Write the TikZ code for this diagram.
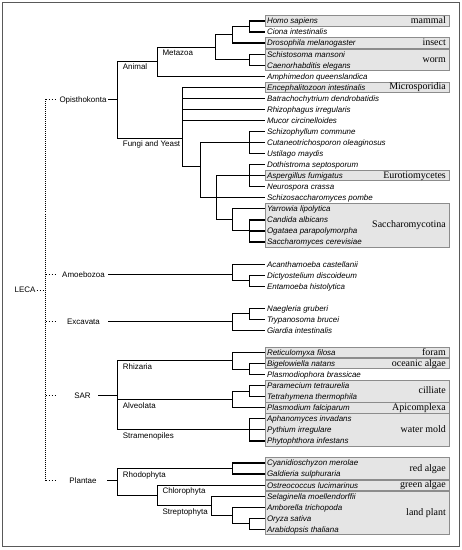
\documentclass[tikz,border=0pt]{standalone}
\usepackage{fontspec}
\setmainfont{Liberation Serif}
\setsansfont{Liberation Sans}
\begin{document}
\begin{tikzpicture}[x=1bp,y=-1bp,
  edge/.style={line width=1.2bp},
  hdot/.style={line width=1bp, dash pattern=on 1.5bp off 1.5bp},
  vdot/.style={line width=1.1bp, dash pattern=on 1bp off 1bp},
  leaf/.style={anchor=west, inner xsep=2.5bp, inner ysep=0pt, outer sep=0pt, text height=6bp, text depth=0.2bp, font=\sffamily\itshape\fontsize{8}{9.6}\selectfont},
  clade/.style={anchor=base west, inner sep=0pt, font=\sffamily\fontsize{8}{9.6}\selectfont},
  group/.style={anchor=base, inner sep=0pt, font=\sffamily\fontsize{8}{9.6}\selectfont},
  taxbox/.style={fill=black!10, draw=black!45, line width=0.8bp},
  taxlab/.style={anchor=east, inner sep=0pt, text height=5bp, text depth=0pt, font=\fontsize{10}{12}\selectfont},
]
\useasboundingbox (0,0) rectangle (462,550);
\draw[line width=1.5bp, draw=black!65] (2.5,2.5) rectangle (459.5,546.5);

% shaded boxes
\foreach \a/\b/\t in {0/0/mammal, 2/2/insect, 3/4/worm, 6/6/Microsporidia, 14/14/Eurotiomycetes, 17/20/Saccharomycotina, 30/30/foram, 31/31/oceanic algae, 33/34/cilliate, 35/35/Apicomplexa, 36/38/water mold, 40/41/red algae, 42/42/green algae, 43/46/land plant}{
  \draw[taxbox] (265.5,{21+11.05*\a-5.2}) rectangle (449.5,{21+11.05*\b+5.2});
  \node[taxlab] (box\a) at (446,{21+11.05*(\a+\b)/2}) {\t};
}

% leaves
\foreach \r/\t in {0/Homo sapiens, 1/Ciona intestinalis, 2/Drosophila melanogaster, 3/Schistosoma mansoni, 4/Caenorhabditis elegans, 5/Amphimedon queenslandica, 6/Encephalitozoon intestinalis, 7/Batrachochytrium dendrobatidis, 8/Rhizophagus irregularis, 9/Mucor circinelloides, 10/Schizophyllum commune, 11/Cutaneotrichosporon oleaginosus, 12/Ustilago maydis, 13/Dothistroma septosporum, 14/Aspergillus fumigatus, 15/Neurospora crassa, 16/Schizosaccharomyces pombe, 17/Yarrowia lipolytica, 18/Candida albicans, 19/Ogataea parapolymorpha, 20/Saccharomyces cerevisiae, 22/Acanthamoeba castellanii, 23/Dictyostelium discoideum, 24/Entamoeba histolytica, 26/Naegleria gruberi, 27/Trypanosoma brucei, 28/Giardia intestinalis, 30/Reticulomyxa filosa, 31/Bigelowiella natans, 32/Plasmodiophora brassicae, 33/Paramecium tetraurelia, 34/Tetrahymena thermophila, 35/Plasmodium falciparum, 36/Aphanomyces invadans, 37/Pythium irregulare, 38/Phytophthora infestans, 40/Cyanidioschyzon merolae, 41/Galdieria sulphuraria, 42/Ostreococcus lucimarinus, 43/Selaginella moellendorffii, 44/Amborella trichopoda, 45/Oryza sativa, 46/Arabidopsis thaliana}{
  \node[leaf] (l\r) at (264.5,{21+11.05*\r}) {\t};
}

% internal nodes
\coordinate (hc) at (249.5,26.5);
\coordinate (hcd) at (232.5,34.5);
\coordinate (worm) at (249.5,59.5);
\coordinate (bil) at (215.5,47.5);
\coordinate (meta) at (157.5,61.5);
\coordinate (basi) at (249.5,142.5);
\coordinate (pez) at (249.5,175.5);
\coordinate (sacb) at (249.5,230.5);
\coordinate (sac) at (232.5,219.5);
\coordinate (asco) at (216.5,197.8);
\coordinate (dik) at (200.5,166.5);
\coordinate (fun) at (182.5,138.5);
\coordinate (opi) at (117.5,99.5);
\coordinate (de) at (249.5,280.5);
\coordinate (amo) at (232.5,274.5);
\coordinate (nt) at (249.5,313.5);
\coordinate (exc) at (232.5,321.5);
\coordinate (bp) at (249.5,369.5);
\coordinate (rhi) at (232.5,360.5);
\coordinate (pt) at (249.5,391.5);
\coordinate (alv) at (232.5,399.5);
\coordinate (stra) at (249.5,429.85);
\coordinate (sar) at (117.5,395.5);
\coordinate (rho) at (232.5,468.5);
\coordinate (ao) at (249.5,523.5);
\coordinate (ang) at (232.5,515.5);
\coordinate (stp) at (211.5,505.5);
\coordinate (vir) at (157.5,495.5);
\coordinate (pla) at (117.5,480.5);

% edges (each vertical drawn once)
\draw[edge] (l0.west) -| (hc) |- (l1.west);
\draw[edge] (hc) -| (hcd) |- (l2.west);
\draw[edge] (l3.west) -| (worm) |- (l4.west);
\draw[edge] (hcd) -| (bil) |- (worm);
\draw[edge] (bil) -| (meta) |- (l5.west);
\draw[edge] (l10.west) -| (basi) |- (l12.west);
\draw[edge] (basi |- l11.west) -- (l11.west);
\draw[edge] (l13.west) -| (pez) |- (l15.west);
\draw[edge] (pez |- l14.west) -- (l14.west);
\draw[edge] (l18.west) -| (sacb) |- (l20.west);
\draw[edge] (sacb |- l19.west) -- (l19.west);
\draw[edge] (l17.west) -| (sac) |- (sacb);
\draw[edge] (pez) -| (asco) |- (sac);
\draw[edge] (asco |- l16.west) -- (l16.west);
\draw[edge] (basi) -| (dik) |- (asco);
\draw[edge] (l6.west) -| (fun) |- (dik);
\draw[edge] (fun |- l7.west) -- (l7.west);
\draw[edge] (fun |- l8.west) -- (l8.west);
\draw[edge] (fun |- l9.west) -- (l9.west);
\draw[edge] (meta) -| (opi) |- (fun);
\draw[edge] (l23.west) -| (de) |- (l24.west);
\draw[edge] (l22.west) -| (amo) |- (de);
\draw[edge] (l26.west) -| (nt) |- (l27.west);
\draw[edge] (nt) -| (exc) |- (l28.west);
\draw[edge] (l31.west) -| (bp) |- (l32.west);
\draw[edge] (l30.west) -| (rhi) |- (bp);
\draw[edge] (l33.west) -| (pt) |- (l34.west);
\draw[edge] (pt) -| (alv) |- (l35.west);
\draw[edge] (l36.west) -| (stra) |- (l38.west);
\draw[edge] (stra |- l37.west) -- (l37.west);
\draw[edge] (rhi) -| (sar) |- (stra);
\draw[edge] (sar |- alv) -- (alv);
\draw[edge] (l40.west) -| (rho) |- (l41.west);
\draw[edge] (l45.west) -| (ao) |- (l46.west);
\draw[edge] (l44.west) -| (ang) |- (ao);
\draw[edge] (l43.west) -| (stp) |- (ang);
\draw[edge] (l42.west) -| (vir) |- (stp);
\draw[edge] (rho) -| (pla) |- (vir);

% clade labels
\node[clade] (tAnimal) at (122.7,70) {Animal};
\node[clade] (tMetazoa) at (162.3,56) {Metazoa};
\node[clade] (tFungi) at (122.7,147) {Fungi and Yeast};
\node[clade] (tRhiz) at (122.7,369) {Rhizaria};
\node[clade] (tAlv) at (122.7,408) {Alveolata};
\node[clade] (tStram) at (122.7,438.35) {Stramenopiles};
\node[clade] (tRhodo) at (122.7,477) {Rhodophyta};
\node[clade] (tChloro) at (162.3,493.6) {Chlorophyta};
\node[clade] (tStrep) at (162.3,514) {Streptophyta};

% groups
\node[group] (gOpi) at (83,102.4) {Opisthokonta};
\node[group] (gAmo) at (83.5,277.4) {Amoebozoa};
\node[group] (gExc) at (83.5,324.4) {Excavata};
\node[group] (gSar) at (82.5,398.4) {SAR};
\node[group] (gPla) at (83,483.4) {Plantae};
\node[group] (leca) at (25,292.9) {LECA};

\coordinate (sOpi) at (108,99.5);
\coordinate (sAmo) at (108,274.5);
\coordinate (sExc) at (108,321.5);
\coordinate (sSar) at (98,395.5);
\coordinate (sPla) at (107,480.5);
\draw[edge] (sOpi) -- (opi);
\draw[edge] (sAmo) -- (amo);
\draw[edge] (sExc) -- (exc);
\draw[edge] (sSar) -- (sar);
\draw[edge] (sPla) -- (pla);

% dotted root
\coordinate (dTop) at (45.5,99.5);
\coordinate (dBot) at (45.5,480.5);
\coordinate (dMid) at (45.5,290);
\draw[vdot] (dTop) -- (dBot);
\draw[hdot] ([xshift=1bp]leca.east |- dMid) -- (dMid);
\foreach \g/\yy in {Opi/99.5, Amo/274.5, Exc/321.5, Sar/395.5, Pla/480.5}{
  \draw[hdot] (45.5,\yy) -- (57,\yy);
}
\end{tikzpicture}
\end{document}
